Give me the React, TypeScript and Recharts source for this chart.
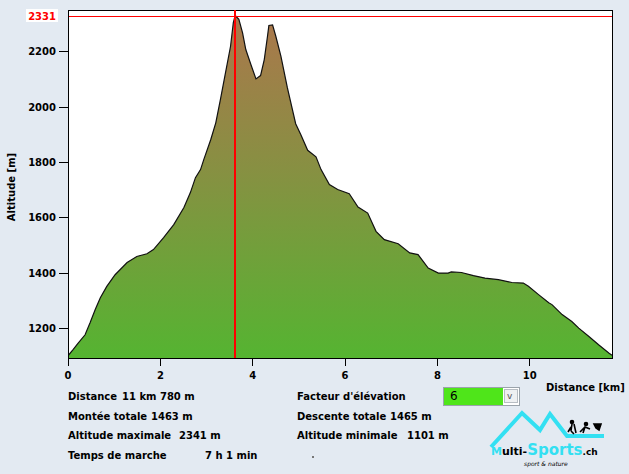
import { AreaChart, Area, XAxis, YAxis, ReferenceLine, ReferenceArea, CartesianGrid } from 'recharts';

// profile (km, m)
const distanceKm = [
  0, 0.11, 0.22, 0.37, 0.48, 0.59, 0.7, 0.84, 1.02, 1.28, 1.49, 1.71, 1.85, 2.07, 2.29, 2.51,
  2.65, 2.76, 2.87, 2.94, 3.09, 3.2, 3.3, 3.41, 3.52, 3.58, 3.62, 3.7, 3.78, 3.85, 3.96, 4.07,
  4.17, 4.25, 4.32, 4.35, 4.43, 4.5, 4.61, 4.75, 4.93, 5.04, 5.19, 5.37, 5.48, 5.66, 5.84, 6.09,
  6.28, 6.49, 6.67, 6.85, 7.15, 7.4, 7.58, 7.8, 8.02, 8.23, 8.3, 8.52, 8.78, 9.03, 9.32, 9.61,
  9.86, 9.97, 10.19, 10.37, 10.41, 10.48, 10.7, 10.91, 11.06, 11.28, 11.49, 11.71, 11.78,
];
const altitudeM = [
  1101, 1123, 1147, 1177, 1221, 1268, 1311, 1352, 1394, 1438, 1460, 1470, 1485, 1528, 1575, 1637,
  1691, 1745, 1774, 1810, 1882, 1943, 2027, 2124, 2220, 2305, 2331, 2317, 2268, 2208, 2154, 2102,
  2114, 2172, 2256, 2295, 2297, 2256, 2184, 2070, 1940, 1901, 1844, 1820, 1774, 1720, 1702, 1687,
  1639, 1617, 1551, 1521, 1506, 1473, 1467, 1418, 1400, 1400, 1404, 1402, 1391, 1382, 1376, 1366,
  1364, 1352, 1322, 1298, 1293, 1286, 1250, 1225, 1201, 1171, 1141, 1111, 1103,
];

const xTicks = [0, 2, 4, 6, 8, 10];
const yTicks = [1200, 1400, 1600, 1800, 2000, 2200];
const xDomain = [0, 11.78];
const yDomain = [1093, 2351];
const peakKm = 3.62;
const peakAlt = 2331;

const statsLeft = [
  ['Distance', '11 km 780 m'],
  ['Montée totale', '1463 m'],
  ['Altitude maximale', '2341 m'],
  ['Temps de marche', '7 h 1 min'],
];
const statsRight = [
  ['Facteur d\'élévation', ''],
  ['Descente totale', '1465 m'],
  ['Altitude minimale', '1101 m'],
];
const valueLeftX = [122, 151, 179, 205];
const valueRightX = [0, 390, 407];

const data = distanceKm.map((d, i) => ({ d, alt: altitudeM[i] }));

const font = '"DejaVu Sans", sans-serif';
const tickStyle = { fill: '#000', fontSize: 10, fontWeight: 'bold', fontFamily: font };

function PeakLabel(props: any) {
  const { viewBox } = props;
  const y = viewBox.y;
  return (
    <g>
      <rect x={26} y={y - 6.5} width={32} height={13} fill="#fff" />
      <text x={56} y={y + 4} textAnchor="end" fill="#ff0000" fontSize={10} fontWeight="bold" fontFamily={font}>
        {String(peakAlt)}
      </text>
    </g>
  );
}

// red marker lines, snapped to the pixel grid
function RedHLine(p: any) {
  const y = Math.round(p.y1) + 0.5;
  return <line x1={p.x1} y1={y} x2={p.x2} y2={y} stroke="#ff0000" strokeWidth={1} />;
}
function RedVLine(p: any) {
  const x = Math.round(p.x1);
  return <line x1={x} y1={p.y1} x2={x} y2={p.y2} stroke="#ff0000" strokeWidth={2} />;
}

const textStyle: any = {
  position: 'absolute',
  fontFamily: font,
  fontSize: 10,
  fontWeight: 'bold',
  color: '#000',
  whiteSpace: 'nowrap',
  lineHeight: '12px',
};

export default function App() {
  return (
    <div style={{ position: 'absolute', left: 0, top: 0, width: 629, height: 474, background: '#e3eaf2', overflow: 'hidden' }}>
      <AreaChart width={629} height={474} data={data} margin={{ top: 10, right: 17, bottom: 86, left: 8 }}>
        <defs>
          <linearGradient id="profileFill" x1="0" y1="0" x2="0" y2="1">
            <stop offset="0%" stopColor="#ab774c" />
            <stop offset="45%" stopColor="#879042" />
            <stop offset="100%" stopColor="#55b431" />
          </linearGradient>
        </defs>
        <CartesianGrid fill="#ffffff" horizontal={false} vertical={false} />
        <XAxis
          dataKey="d"
          type="number"
          domain={xDomain}
          ticks={xTicks}
          allowDataOverflow
          height={30}
          tickSize={8}
          tickMargin={6}
          tick={tickStyle}
          axisLine={{ stroke: '#000', shapeRendering: 'crispEdges' }}
          tickLine={{ stroke: '#000', shapeRendering: 'crispEdges' }}
        />
        <YAxis
          type="number"
          domain={yDomain}
          ticks={yTicks}
          allowDataOverflow
          width={60}
          tickSize={9}
          tickMargin={3}
          tick={tickStyle}
          axisLine={{ stroke: '#000', shapeRendering: 'crispEdges' }}
          tickLine={{ stroke: '#000', shapeRendering: 'crispEdges' }}
        />
        <Area
          type="linear"
          dataKey="alt"
          stroke="#111"
          strokeWidth={1.2}
          fill="url(#profileFill)"
          fillOpacity={1}
          isAnimationActive={false}
          dot={false}
          activeDot={false}
        />
        <ReferenceArea x1={xDomain[0]} x2={xDomain[1]} y1={yDomain[0]} y2={yDomain[1]} fill="none" stroke="#000" strokeWidth={1} shapeRendering="crispEdges" />
        <ReferenceLine x={peakKm} stroke="#ff0000" shape={RedVLine} />
        <ReferenceLine y={peakAlt} stroke="#ff0000" shape={RedHLine} label={<PeakLabel />} />
      </AreaChart>

      <div style={{ ...textStyle, left: 3, top: 187, transform: 'translate(-50%, -50%) rotate(-90deg)', marginLeft: 9 }}>Altitude [m]</div>
      <div style={{ ...textStyle, left: 546, top: 382 }}>Distance [km]</div>

      {statsLeft.map(([label, value], i) => (
        <div key={label}>
          <div style={{ ...textStyle, left: 68, top: 391 + i * 19.7 }}>{label}</div>
          <div style={{ ...textStyle, left: valueLeftX[i], top: 391 + i * 19.7 }}>{value}</div>
        </div>
      ))}
      {statsRight.map(([label, value], i) => (
        <div key={label}>
          <div style={{ ...textStyle, left: 297, top: 391 + i * 19.7 }}>{label}</div>
          {value && <div style={{ ...textStyle, left: valueRightX[i], top: 391 + i * 19.7 }}>{value}</div>}
        </div>
      ))}

      {/* elevation factor select */}
      <div style={{ position: 'absolute', left: 443, top: 387, width: 77, height: 19, border: '1px solid #9aa3ab', boxSizing: 'border-box', background: '#fff' }}>
        <div style={{ position: 'absolute', left: 0, top: 0, width: 59, height: 17, background: '#4fe51a' }} />
        <div style={{ ...textStyle, fontWeight: 'normal', fontSize: 12, left: 6, top: 2 }}>6</div>
        <div style={{ position: 'absolute', left: 60, top: 1, width: 14, height: 14, border: '1px solid #b7bdc3', background: '#eef0f2', boxSizing: 'border-box' }} />
        <div style={{ ...textStyle, fontWeight: 'normal', fontSize: 9, color: '#555', left: 63, top: 2 }}>v</div>
      </div>

      <div style={{ position: 'absolute', left: 312, top: 456, width: 2, height: 2, background: '#777' }} />

      {/* logo */}
      <svg style={{ position: 'absolute', left: 0, top: 0 }} width={629} height={474}>
        <polyline points="491,447 522,413 540,430 550,414 567,436 604,436" fill="none" stroke="#33e0f2" strokeWidth={4} strokeLinejoin="miter" />
        <g stroke="#000" strokeWidth={1.6} fill="none">
          <circle cx={572} cy={422} r={1.5} fill="#000" />
          <path d="M572 424 L571 431 M571 427 L568 432 M571 431 L574 434 M574 424 L576 433" />
          <circle cx={586} cy={424} r={1.5} fill="#000" />
          <path d="M580 432 L585 427 L590 429 M585 427 L583 433" />
          <path d="M594 424 L601 424 L599 430 L596 428 Z" fill="#000" />
        </g>
        <text x={491} y={455} fontFamily={font} fontSize={11} fontWeight="bold">
          <tspan fill="#33e0f2">M</tspan>
          <tspan fill="#000">ulti-</tspan>
          <tspan fill="#33e0f2" fontSize={15}>Sports</tspan>
          <tspan fill="#000" fontSize={9}>.ch</tspan>
        </text>
        <text x={524} y={466} fontFamily={font} fontSize={6} fontStyle="italic" fill="#000">sport &amp; nature</text>
      </svg>
    </div>
  );
}
